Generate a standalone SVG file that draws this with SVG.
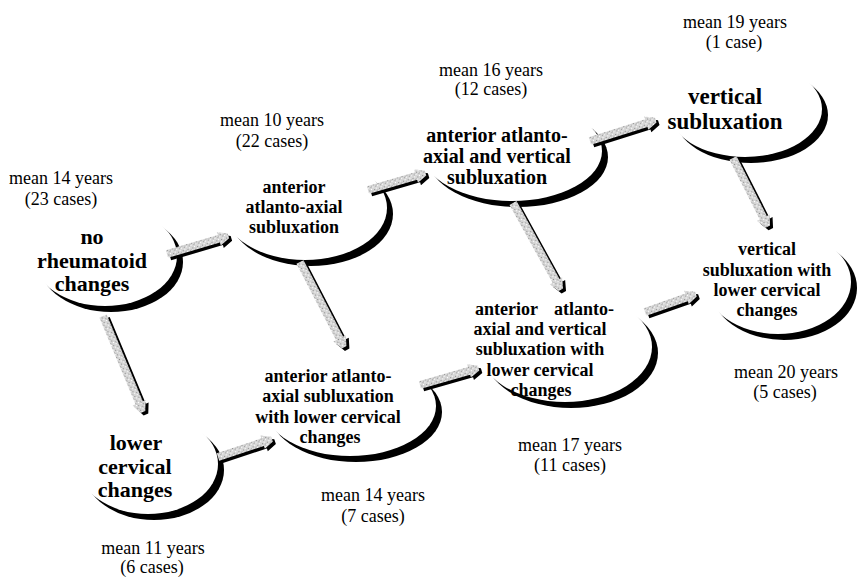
<svg xmlns="http://www.w3.org/2000/svg" width="858" height="578" viewBox="0 0 858 578">
<style>
.bg{fill:#fff}
.shd{fill:#000}
.ell{fill:#fff}
.t{font-family:"Liberation Serif","Times New Roman",serif;font-weight:bold;fill:#000;text-anchor:middle}
.lab{font-family:"Liberation Serif","Times New Roman",serif;font-size:18px;fill:#000;text-anchor:middle}
.ash{fill:#000}
.abd{fill:url(#stip)}
</style>
<defs>
<pattern id="stip" width="5" height="5" patternUnits="userSpaceOnUse">
<rect width="5" height="5" fill="#d6d6d6"/>
<rect x="1" y="1" width="1" height="1" fill="#8a8a8a"/>
<rect x="3" y="3" width="1" height="1" fill="#a0a0a0"/>
<rect x="3" y="0" width="1" height="1" fill="#fff"/>
<rect x="0" y="3" width="1" height="1" fill="#fff"/>
<rect x="4" y="2" width="1" height="1" fill="#b5b5b5"/>
</pattern>
</defs>
<rect class="bg" width="858" height="578"/>

<g id="n1">
<ellipse class="shd" cx="111" cy="262" rx="72" ry="50"/>
<ellipse class="ell" cx="105" cy="256" rx="72" ry="50"/>
<text class="t" font-size="22" x="92" y="244">no</text>
<text class="t" font-size="22" x="92" y="268">rheumatoid</text>
<text class="t" font-size="22" x="92" y="291">changes</text>
<text class="lab" x="61" y="184">mean 14 years</text>
<text class="lab" x="61" y="205">(23 cases)</text>
</g>

<g id="n2">
<ellipse class="shd" cx="311" cy="214" rx="82" ry="52"/>
<ellipse class="ell" cx="305" cy="208" rx="82" ry="52"/>
<text class="t" font-size="18" x="294" y="193">anterior</text>
<text class="t" font-size="18" x="294" y="213">atlanto-axial</text>
<text class="t" font-size="18" x="294" y="233">subluxation</text>
<text class="lab" x="272" y="126">mean 10 years</text>
<text class="lab" x="272" y="147">(22 cases)</text>
</g>

<g id="n3">
<ellipse class="shd" cx="518" cy="157" rx="90" ry="50"/>
<ellipse class="ell" cx="512" cy="151" rx="90" ry="50"/>
<text class="t" font-size="20" x="497" y="142">anterior atlanto-</text>
<text class="t" font-size="20" x="497" y="163">axial and vertical</text>
<text class="t" font-size="20" x="497" y="184">subluxation</text>
<text class="lab" x="491" y="76">mean 16 years</text>
<text class="lab" x="491" y="95">(12 cases)</text>
</g>

<g id="n4">
<ellipse class="shd" cx="751" cy="115" rx="77" ry="48"/>
<ellipse class="ell" cx="745" cy="109" rx="77" ry="48"/>
<text class="t" font-size="23" x="725" y="104">vertical</text>
<text class="t" font-size="23" x="725" y="129">subluxation</text>
<text class="lab" x="735" y="28">mean 19 years</text>
<text class="lab" x="734" y="48">(1 case)</text>
</g>

<g id="n5">
<ellipse class="shd" cx="784" cy="288" rx="73" ry="52"/>
<ellipse class="ell" cx="778" cy="282" rx="73" ry="52"/>
<text class="t" font-size="18" x="767" y="255">vertical</text>
<text class="t" font-size="18" x="767" y="276">subluxation with</text>
<text class="t" font-size="18" x="767" y="296">lower cervical</text>
<text class="t" font-size="18" x="767" y="316">changes</text>
<text class="lab" x="786" y="378">mean 20 years</text>
<text class="lab" x="785" y="398">(5 cases)</text>
</g>

<g id="n6">
<ellipse class="shd" cx="356" cy="412" rx="86" ry="50"/>
<ellipse class="ell" cx="350" cy="406" rx="86" ry="50"/>
<text class="t" font-size="18" x="328" y="382">anterior atlanto-</text>
<text class="t" font-size="18" x="328" y="402">axial subluxation</text>
<text class="t" font-size="18" x="328" y="423">with lower cervical</text>
<text class="t" font-size="18" x="330" y="443">changes</text>
<text class="lab" x="373" y="501">mean 14 years</text>
<text class="lab" x="373" y="522">(7 cases)</text>
</g>

<g id="n7">
<ellipse class="shd" cx="571" cy="353" rx="87" ry="55"/>
<ellipse class="ell" cx="565" cy="347" rx="87" ry="55"/>
<text class="t" font-size="18" y="315" style="text-anchor:start"><tspan x="475">anterior</tspan><tspan x="554">atlanto-</tspan></text>
<text class="t" font-size="18" x="540" y="335">axial and vertical</text>
<text class="t" font-size="18" x="540" y="355">subluxation with</text>
<text class="t" font-size="18" x="540" y="376">lower cervical</text>
<text class="t" font-size="18" x="541" y="396">changes</text>
<text class="lab" x="570" y="451">mean 17 years</text>
<text class="lab" x="570" y="471">(11 cases)</text>
</g>

<g id="n8">
<ellipse class="shd" cx="154" cy="470" rx="70" ry="50"/>
<ellipse class="ell" cx="148" cy="464" rx="70" ry="50"/>
<text class="t" font-size="22" x="136" y="450">lower</text>
<text class="t" font-size="22" x="135" y="474">cervical</text>
<text class="t" font-size="22" x="135" y="497">changes</text>
<text class="lab" x="153" y="554">mean 11 years</text>
<text class="lab" x="152" y="573">(6 cases)</text>
</g>

<g id="connectors">
<g id="a1">
<path class="ash" transform="translate(170,256.5) rotate(-16.4)" d="M0,-4 H54 V-7 L64,-2.5 V2.5 L54,7 V4 H0 Z"/>
<path class="abd" transform="translate(167,254) rotate(-16.4)" d="M0,-4 H54 V-7 L64,-2.5 V2.5 L54,7 V4 H0 Z"/>
</g>
<g id="a2">
<path class="ash" transform="translate(371,192.5) rotate(-16.3)" d="M0,-4 H50 V-7 L60,-2.5 V2.5 L50,7 V4 H0 Z"/>
<path class="abd" transform="translate(368,190) rotate(-16.3)" d="M0,-4 H50 V-7 L60,-2.5 V2.5 L50,7 V4 H0 Z"/>
</g>
<g id="a3">
<path class="ash" transform="translate(593,143.5) rotate(-17.6)" d="M0,-4 H59 V-7 L69,-2.5 V2.5 L59,7 V4 H0 Z"/>
<path class="abd" transform="translate(590,141) rotate(-17.6)" d="M0,-4 H59 V-7 L69,-2.5 V2.5 L59,7 V4 H0 Z"/>
</g>
<g id="a4">
<path class="ash" transform="translate(736,160.5) rotate(63.1)" d="M0,-4 H67 V-7 L77,-2.5 V2.5 L67,7 V4 H0 Z"/>
<path class="abd" transform="translate(733,158) rotate(63.1)" d="M0,-4 H67 V-7 L77,-2.5 V2.5 L67,7 V4 H0 Z"/>
</g>
<g id="a5">
<path class="ash" transform="translate(516,205.5) rotate(61.1)" d="M0,-4 H89 V-7 L99,-2.5 V2.5 L89,7 V4 H0 Z"/>
<path class="abd" transform="translate(513,203) rotate(61.1)" d="M0,-4 H89 V-7 L99,-2.5 V2.5 L89,7 V4 H0 Z"/>
</g>
<g id="a6">
<path class="ash" transform="translate(303,264.5) rotate(62.6)" d="M0,-4 H86 V-7 L96,-2.5 V2.5 L86,7 V4 H0 Z"/>
<path class="abd" transform="translate(300,262) rotate(62.6)" d="M0,-4 H86 V-7 L96,-2.5 V2.5 L86,7 V4 H0 Z"/>
</g>
<g id="a7">
<path class="ash" transform="translate(106,318.5) rotate(67.4)" d="M0,-4 H94 V-7 L104,-2.5 V2.5 L94,7 V4 H0 Z"/>
<path class="abd" transform="translate(103,316) rotate(67.4)" d="M0,-4 H94 V-7 L104,-2.5 V2.5 L94,7 V4 H0 Z"/>
</g>
<g id="a8">
<path class="ash" transform="translate(221,459.5) rotate(-18.4)" d="M0,-4 H47 V-7 L57,-2.5 V2.5 L47,7 V4 H0 Z"/>
<path class="abd" transform="translate(218,457) rotate(-18.4)" d="M0,-4 H47 V-7 L57,-2.5 V2.5 L47,7 V4 H0 Z"/>
</g>
<g id="a9">
<path class="ash" transform="translate(423,387.5) rotate(-16.1)" d="M0,-4 H51 V-7 L61,-2.5 V2.5 L51,7 V4 H0 Z"/>
<path class="abd" transform="translate(420,385) rotate(-16.1)" d="M0,-4 H51 V-7 L61,-2.5 V2.5 L51,7 V4 H0 Z"/>
</g>
<g id="a10">
<path class="ash" transform="translate(648,314.5) rotate(-19.4)" d="M0,-4 H44 V-7 L54,-2.5 V2.5 L44,7 V4 H0 Z"/>
<path class="abd" transform="translate(645,312) rotate(-19.4)" d="M0,-4 H44 V-7 L54,-2.5 V2.5 L44,7 V4 H0 Z"/>
</g>
</g>
</svg>
